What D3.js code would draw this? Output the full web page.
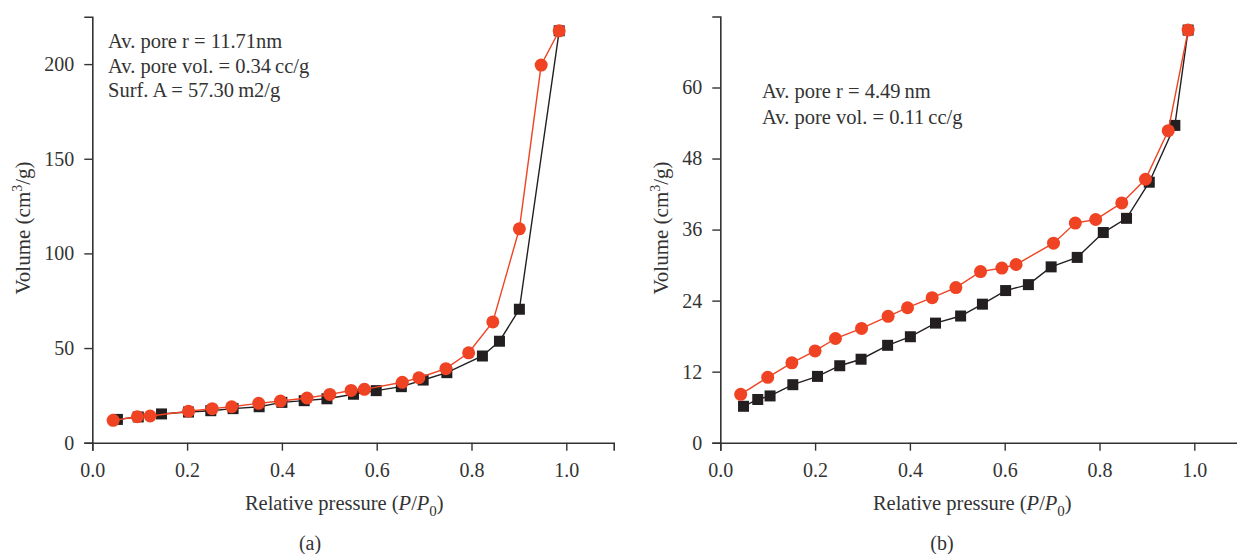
<!DOCTYPE html>
<html>
<head>
<meta charset="utf-8">
<script src="https://cdn.jsdelivr.net/npm/d3@7"></script>
<style>
  body { margin: 0; background: #fff; }
  text { font-family: "Liberation Serif", "DejaVu Serif", serif; fill: #333; }
</style>
</head>
<body>
<svg id="chart" width="1237" height="554"></svg>
<script>
// panel (a) data
var aAdsX = [0.053, 0.097, 0.146, 0.203, 0.25, 0.297, 0.352, 0.4, 0.447, 0.495, 0.551, 0.599, 0.652, 0.698, 0.748, 0.823, 0.859, 0.901, 0.985];
var aAdsY = [12.3, 13.6, 15.2, 16.2, 16.9, 18.0, 19.0, 21.3, 22.2, 23.2, 25.6, 27.5, 29.6, 33.1, 37.0, 45.8, 53.6, 70.5, 217.6];
var aDesX = [0.044, 0.095, 0.122, 0.203, 0.253, 0.294, 0.351, 0.397, 0.453, 0.501, 0.546, 0.574, 0.654, 0.689, 0.746, 0.794, 0.845, 0.901, 0.947, 0.985];
var aDesY = [11.8, 13.7, 14.1, 16.6, 18.0, 19.0, 20.8, 22.0, 23.6, 25.5, 27.6, 28.2, 31.9, 34.3, 39.1, 47.5, 63.8, 113.0, 199.5, 217.6];
var aNotes = ["Av. pore r = 11.71nm", "Av. pore vol. = 0.34\u2009cc/g", "Surf. A = 57.30\u2009m2/g"];

// panel (b) data
var bAdsX = [0.049, 0.079, 0.105, 0.153, 0.205, 0.252, 0.297, 0.353, 0.401, 0.454, 0.507, 0.553, 0.602, 0.65, 0.698, 0.753, 0.808, 0.857, 0.905, 0.959, 0.987];
var bAdsY = [6.15, 7.3, 7.9, 9.8, 11.2, 13.0, 14.1, 16.45, 17.9, 20.2, 21.4, 23.4, 25.7, 26.7, 29.7, 31.3, 35.5, 37.9, 44.0, 53.6, 69.7];
var bDesX = [0.043, 0.1, 0.151, 0.2, 0.243, 0.298, 0.354, 0.395, 0.447, 0.497, 0.549, 0.594, 0.624, 0.703, 0.749, 0.792, 0.847, 0.897, 0.945, 0.987];
var bDesY = [8.17, 11.05, 13.5, 15.5, 17.6, 19.3, 21.35, 22.8, 24.5, 26.2, 28.9, 29.5, 30.1, 33.7, 37.1, 37.7, 40.5, 44.5, 52.7, 69.7];
var bNotes = ["Av. pore r = 4.49\u2009nm", "Av. pore vol. = 0.11\u2009cc/g"];

var xTicks = [0, 0.2, 0.4, 0.6, 0.8, 1.0];
var aYTicks = [0, 50, 100, 150, 200];
var bYTicks = [0, 12, 24, 36, 48, 60];

var red = "#ef4323", black = "#231f20", axisCol = "#333";
var svg = d3.select("#chart");

function panel(opt) {
    var g = svg.append("g");
    var x = d3.scaleLinear().domain([0, 1.1]).range([opt.left, opt.left + 521.4]);
    var y = d3.scaleLinear().domain([0, opt.yMax]).range([442.7, 442.7 - opt.yMax * opt.yPer]);

    // minor ticks
    var xMinor = d3.range(0.1, 1.15, 0.2);
    var yMinor = d3.range(opt.yStep / 2, opt.yMax, opt.yStep);

    var xa = g.append("g").attr("transform", "translate(0,442.7)");
    xa.call(d3.axisBottom(x).tickValues(xMinor).tickSize(5).tickFormat(""));
    xa.call(d3.axisBottom(x).tickValues(xTicks).tickSize(8).tickFormat(d3.format(".1f")));
    var ya = g.append("g").attr("transform", "translate(" + opt.left + ",0)");
    ya.call(d3.axisLeft(y).tickValues(yMinor).tickSize(5).tickFormat(""));
    ya.call(d3.axisLeft(y).tickValues(opt.yTicks).tickSize(8).tickFormat(d3.format("d")));

    g.selectAll(".domain").attr("stroke", axisCol).attr("stroke-width", 1.6);
    g.selectAll(".tick line").attr("stroke", axisCol).attr("stroke-width", 1.4);
    g.selectAll(".tick text").style("font-family", "Liberation Serif, serif").style("font-size", "20px").attr("fill", axisCol);
    xa.selectAll(".tick text").attr("y", 20);
    ya.selectAll(".tick text").attr("x", -18);

    var line = d3.line().x(function(d) { return x(d[0]); }).y(function(d) { return y(d[1]); });
    var ads = d3.zip(opt.adsX, opt.adsY), des = d3.zip(opt.desX, opt.desY);

    g.append("path").datum(ads).attr("fill", "none").attr("stroke", black).attr("stroke-width", 1.4).attr("d", line);
    g.selectAll(".sq").data(ads).enter().append("rect")
        .attr("x", function(d) { return x(d[0]) - 5.5; })
        .attr("y", function(d) { return y(d[1]) - 5.5; })
        .attr("width", 11).attr("height", 11).attr("fill", black);
    g.append("path").datum(des).attr("fill", "none").attr("stroke", red).attr("stroke-width", 1.4).attr("d", line);
    g.selectAll(".ci").data(des).enter().append("circle")
        .attr("cx", function(d) { return x(d[0]); })
        .attr("cy", function(d) { return y(d[1]); })
        .attr("r", 6.5).attr("fill", red);

    // notes
    opt.notes.forEach(function(t, i) {
        g.append("text").attr("x", opt.noteX).attr("y", opt.noteY + i * opt.noteGap)
            .style("font-size", "20.5px").text(t);
    });

    // axis titles
    var xt = g.append("text").attr("x", opt.left + 252).attr("y", 510)
        .attr("text-anchor", "middle").style("font-size", "20.5px");
    xt.append("tspan").text("Relative pressure (");
    xt.append("tspan").style("font-style", "italic").text("P");
    xt.append("tspan").text("/");
    xt.append("tspan").style("font-style", "italic").text("P");
    xt.append("tspan").attr("dy", 6).style("font-size", "15px").text("0");
    xt.append("tspan").attr("dy", -6).text(")");

    var yt = g.append("text").attr("transform", "translate(" + opt.ytX + ",228) rotate(-90)")
        .attr("text-anchor", "middle").style("font-size", "21px");
    yt.append("tspan").text("Volume (cm");
    yt.append("tspan").attr("dy", -8).style("font-size", "14px").text("3");
    yt.append("tspan").attr("dy", 8).text("/g)");

    g.append("text").attr("x", opt.capX).attr("y", 550).attr("text-anchor", "middle")
        .style("font-size", "20px").text(opt.cap);
}

panel({left: 92.3, yMax: 225, yPer: 1.893, yStep: 50, yTicks: aYTicks,
       adsX: aAdsX, adsY: aAdsY, desX: aDesX, desY: aDesY,
       notes: aNotes, noteX: 108, noteY: 48, noteGap: 24.5,
       ytX: 30, capX: 310, cap: "(a)"});
panel({left: 720.3, yMax: 72, yPer: 5.92, yStep: 12, yTicks: bYTicks,
       adsX: bAdsX, adsY: bAdsY, desX: bDesX, desY: bDesY,
       notes: bNotes, noteX: 762, noteY: 98, noteGap: 26,
       ytX: 668, capX: 942, cap: "(b)"});
</script>
</body>
</html>
